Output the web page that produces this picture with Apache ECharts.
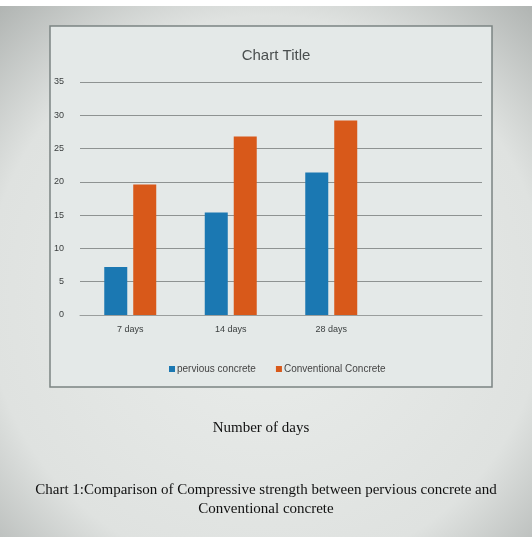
<!DOCTYPE html>
<html>
<head>
<meta charset="utf-8">
<script src="https://cdn.jsdelivr.net/npm/echarts@6/dist/echarts.min.js"></script>
<style>
  html, body { margin: 0; padding: 0; background: #ffffff; }
  #chart { width: 532px; height: 537px; }
</style>
</head>
<body>
<div id="chart"></div>
<script>
// Compressive strength (MPa) by curing age
const categories = ['7 days', '14 days', '28 days', ''];
const perviousValues = [7.2, 15.4, 21.4, null];
const conventionalValues = [19.6, 26.8, 29.2, null];
const yTicks = [0, 5, 10, 15, 20, 25, 30, 35];
const seriesNames = ['pervious concrete', 'Conventional Concrete'];
const chartTitle = 'Chart Title';
const axisName = 'Number of days';
const captionLines = [
  'Chart 1:Comparison of Compressive strength between pervious concrete and',
  'Conventional concrete'
];

const chart = echarts.init(document.getElementById('chart'), null, { renderer: 'canvas' });

const option = {
  backgroundColor: {
    type: 'radial', x: 0.5, y: 0.55, r: 0.75,
    colorStops: [
      { offset: 0, color: '#eaedeb' },
      { offset: 0.7, color: '#dfe2e0' },
      { offset: 1, color: '#aeb2b0' }
    ]
  },
  title: {
    text: chartTitle,
    left: 271, top: 43, textAlign: 'center',
    textStyle: { fontFamily: 'Liberation Sans', fontSize: 15, fontWeight: 'normal', color: '#4a4f4f' }
  },
  graphic: [
    {
      type: 'rect', z: -1,
      shape: { x: 50, y: 26, width: 442, height: 361 },
      style: { fill: '#e4e9e8', stroke: '#7b8482', lineWidth: 1.5 }
    },
    {
      type: 'rect', z: -2,
      shape: { x: 0, y: 0, width: 532, height: 6 },
      style: { fill: '#ffffff' }
    },
    {
      type: 'text', left: 'center', top: 483,
      style: { text: captionLines[0], fontFamily: 'Liberation Serif', fontSize: 15, fill: '#111111' }
    },
    {
      type: 'text', left: 'center', top: 502,
      style: { text: captionLines[1], fontFamily: 'Liberation Serif', fontSize: 15, fill: '#111111' }
    }
  ],
  legend: {
    data: seriesNames,
    left: 164, top: 359,
    icon: 'rect', itemWidth: 6, itemHeight: 6, itemGap: 20,
    textStyle: { fontFamily: 'Liberation Sans', fontSize: 10, color: '#444', padding: [0, 0, 0, -3] }
  },
  grid: { left: 80, right: 50, top: 82, bottom: 222, containLabel: false },
  xAxis: {
    type: 'category',
    data: categories,
    name: axisName,
    nameLocation: 'middle',
    nameGap: 106,
    nameTextStyle: { fontFamily: 'Liberation Serif', fontSize: 15, color: '#111111', padding: [0, 40, 0, 0] },
    axisLine: { lineStyle: { color: '#9a9e9d', width: 1 } },
    axisTick: { show: false },
    axisLabel: { fontFamily: 'Liberation Sans', fontSize: 9, color: '#3c4040', margin: 10 }
  },
  yAxis: {
    type: 'value',
    min: 0, max: yTicks[yTicks.length - 1], interval: 5,
    axisLine: { show: false },
    axisTick: { show: false },
    axisLabel: { fontFamily: 'Liberation Sans', fontSize: 9, color: '#3c4040', margin: 16 },
    splitLine: { lineStyle: { color: '#8e9392', width: 1 } }
  },
  series: [
    {
      name: seriesNames[0], type: 'bar', data: perviousValues,
      barWidth: 23, barGap: '26%',
      itemStyle: { color: '#1b78b2' }
    },
    {
      name: seriesNames[1], type: 'bar', data: conventionalValues,
      barWidth: 23,
      itemStyle: { color: '#d8591a' }
    }
  ]
};

chart.setOption(option);
</script>
</body>
</html>
